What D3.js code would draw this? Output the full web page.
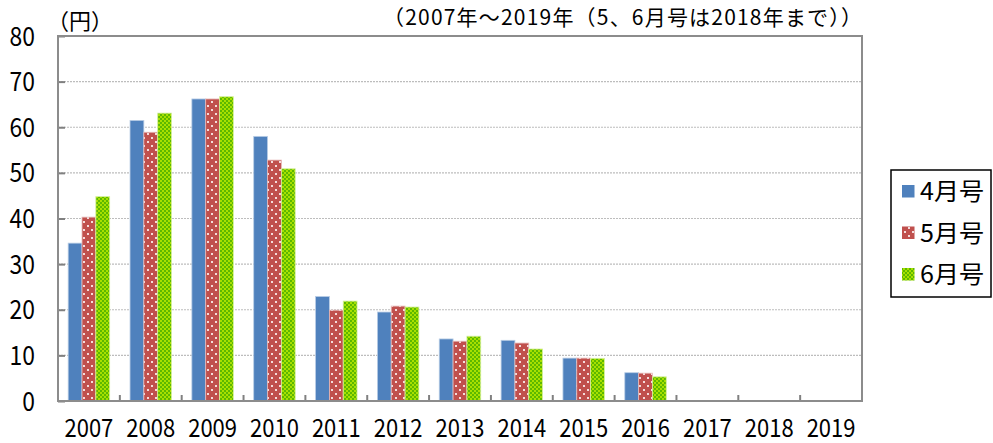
<!DOCTYPE html>
<html>
<head>
<meta charset="utf-8">
<script src="https://cdn.jsdelivr.net/npm/d3@7"></script>
<style>
  body { margin: 0; background: #fff; }
  text { font-family: "Noto Sans CJK JP", sans-serif; fill: #000; }
</style>
</head>
<body>
<svg id="chart" width="993" height="443"></svg>
<script>
// data
var years = ["2007","2008","2009","2010","2011","2012","2013","2014","2015","2016","2017","2018","2019"];
var seriesNames = ["4月号", "5月号", "6月号"];
var apr = [34.6, 61.5, 66.2, 58.0, 22.9, 19.5, 13.6, 13.3, 9.4, 6.2, null, null, null];
var may = [40.3, 58.9, 66.2, 52.8, 19.9, 20.8, 13.1, 12.7, 9.4, 6.1, null, null, null];
var jun = [44.8, 63.1, 66.7, 50.9, 21.9, 20.6, 14.2, 11.4, 9.35, 5.3, null, null, null];
var yTicks = [0, 10, 20, 30, 40, 50, 60, 70, 80];

var svg = d3.select("#chart"),
    margin = {top: 36, right: 131, bottom: 42, left: 58},
    width = +svg.attr("width") - margin.left - margin.right,
    height = +svg.attr("height") - margin.top - margin.bottom;

var SX = 0.88; // narrow glyphs in the original font

var x = d3.scaleBand().domain(years).range([0, width]).paddingInner(0).paddingOuter(0);
var xs = d3.scaleBand().domain(seriesNames).range([0, 41.5]);
var y = d3.scaleLinear().domain([0, 80]).range([height, 0]);

// fill patterns
var defs = svg.append("defs");
var pRed = defs.append("pattern").attr("id", "pRed").attr("patternUnits", "userSpaceOnUse")
    .attr("width", 8).attr("height", 8);
pRed.append("rect").attr("width", 8).attr("height", 8).attr("fill", "#c0504d");
pRed.append("rect").attr("x", 1).attr("y", 1).attr("width", 2).attr("height", 2).attr("fill", "#f4dcdc");
pRed.append("rect").attr("x", 5).attr("y", 5).attr("width", 2).attr("height", 2).attr("fill", "#f4dcdc");

var pGreen = defs.append("pattern").attr("id", "pGreen").attr("patternUnits", "userSpaceOnUse")
    .attr("width", 4).attr("height", 4);
pGreen.append("rect").attr("width", 4).attr("height", 4).attr("fill", "#a8e000");
pGreen.append("rect").attr("width", 2).attr("height", 2).attr("fill", "#5cb800");
pGreen.append("rect").attr("x", 2).attr("y", 2).attr("width", 2).attr("height", 2).attr("fill", "#5cb800");

var fills = ["#4f81bd", "url(#pRed)", "url(#pGreen)"];
var edges = ["#b9cde5", "#e6b9b8", "#d7f0a0"];

var g = svg.append("g").attr("transform", "translate(" + margin.left + "," + margin.top + ")");

// grid
g.selectAll(".grid").data(yTicks.filter(function (d) { return d > 0 && d < 80; }))
  .enter().append("line")
    .attr("class", "grid")
    .attr("x1", 0).attr("x2", width)
    .attr("y1", function (d) { return y(d); }).attr("y2", function (d) { return y(d); })
    .attr("stroke", "#bdbdbd").attr("stroke-width", 1.2).attr("stroke-dasharray", "2,1");

// bars
var allSeries = [apr, may, jun];
allSeries.forEach(function (vals, si) {
  g.append("g").selectAll("rect")
    .data(vals.map(function (v, i) { return {year: years[i], v: v}; }).filter(function (d) { return d.v != null; }))
    .enter().append("rect")
      .attr("x", function (d) { return x(d.year) + (x.bandwidth() - 41.5) / 2 + xs(seriesNames[si]); })
      .attr("y", function (d) { return y(d.v); })
      .attr("width", xs.bandwidth())
      .attr("height", function (d) { return height - y(d.v); })
      .attr("fill", fills[si])
      .attr("stroke", edges[si]).attr("stroke-width", 0.8);
});

// axes (ticks only, labels drawn separately)
var yAxis = d3.axisLeft(y).tickValues(yTicks).tickSize(-7).tickFormat("");
var yg = g.append("g").call(yAxis);
yg.select(".domain").remove();
yg.selectAll("line").attr("stroke", "#808080").attr("stroke-width", 2);

var xAxis = d3.axisBottom(x).tickSize(-6).tickFormat("");
var xg = g.append("g").attr("transform", "translate(0," + height + ")").call(xAxis);
xg.select(".domain").remove();
xg.selectAll(".tick line").attr("stroke", "#808080").attr("stroke-width", 2)
  .attr("transform", function () { return "translate(" + (-x.bandwidth() / 2) + ",0)"; });

// plot frame
g.append("rect").attr("width", width).attr("height", height)
  .attr("fill", "none").attr("stroke", "#8c8c8c").attr("stroke-width", 2);

function label(parent, px, py, txt, size, anchor, sx) {
  return parent.append("g").attr("transform", "translate(" + px + "," + py + ") scale(" + (sx || SX) + ",1)")
    .append("text").attr("text-anchor", anchor).style("font-size", size + "px").text(txt);
}

yTicks.forEach(function (t) {
  label(svg, 35, margin.top + y(t) + 9.5, String(t), 26, "end");
});
years.forEach(function (yr) {
  label(svg, margin.left + x(yr) + x.bandwidth() / 2, 437, yr, 25, "middle");
});

// titles
svg.append("text").attr("x", 47).attr("y", 29).style("font-size", "22px").text("（円）");
svg.append("text").attr("x", 383).attr("y", 25).style("font-size", "21px")
  .attr("textLength", 479).attr("lengthAdjust", "spacing")
  .text("（2007年～2019年（5、6月号は2018年まで））");

// legend
var leg = svg.append("g").attr("transform", "translate(891,170)");
leg.append("rect").attr("width", 100).attr("height", 127)
  .attr("fill", "#fff").attr("stroke", "#000").attr("stroke-width", 1.5);
seriesNames.forEach(function (name, i) {
  var ly = 21 + i * 41.5;
  leg.append("rect").attr("x", 11).attr("y", ly - 6).attr("width", 12.5).attr("height", 12.5)
    .attr("fill", fills[i]);
  leg.append("text").attr("x", 29).attr("y", ly + 9).style("font-size", "24px")
    .attr("textLength", 64).attr("lengthAdjust", "spacingAndGlyphs").text(name);
});
</script>
</body>
</html>
